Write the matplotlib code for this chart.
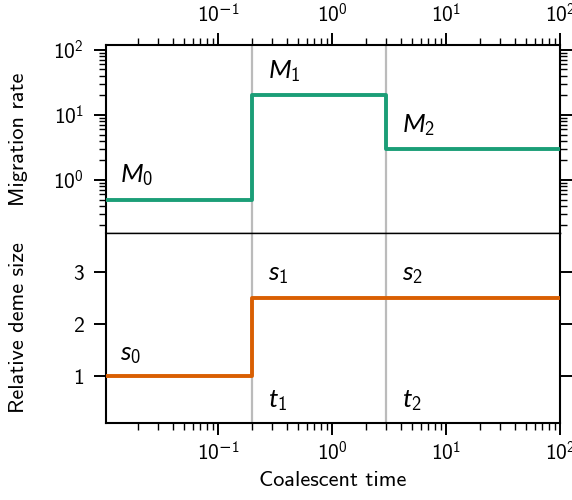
import matplotlib
matplotlib.use("Agg")
import matplotlib.pyplot as plt
from matplotlib.ticker import FuncFormatter
import numpy as np

plt.rcParams['font.family'] = ['cmss10', 'DejaVu Sans']
plt.rcParams['mathtext.fontset'] = 'custom'
plt.rcParams['mathtext.rm'] = 'cmss10'
plt.rcParams['mathtext.it'] = 'Lato:italic'
plt.rcParams['mathtext.sf'] = 'DejaVu Sans'
plt.rcParams['axes.unicode_minus'] = False

# data
times = [0.01, 0.2, 3.0, 100.0]          # breakpoints: start, t1, t2, end
migration = [0.5, 20.0, 3.0]              # M0, M1, M2
deme_size = [1.0, 2.5, 2.5]               # s0, s1, s2
switch_times = [0.2, 3.0]                 # t1, t2
m_labels = ['$M_0$', '$M_1$', '$M_2$']
s_labels = ['$s_0$', '$s_1$', '$s_2$']
t_labels = ['$t_1$', '$t_2$']

green = '#1b9e77'
orange = '#d95f02'


def logfmt(v, pos):
    e = int(round(np.log10(v)))
    if e < 0:
        return r'$10^{\mathsf{-}%d}$' % (-e)
    return r'$10^{%d}$' % e


fig = plt.figure(figsize=(5.72, 5.0), dpi=100)
ax1 = fig.add_axes([0.185, 0.534, 0.794, 0.376])
ax2 = fig.add_axes([0.185, 0.154, 0.794, 0.380], sharex=ax1)

for ax in (ax1, ax2):
    for t in switch_times:
        ax.axvline(t, color='#bbbbbb', lw=1.6, zorder=1)
    ax.set_xscale('log')
    for s in ax.spines.values():
        s.set_linewidth(1.5)

ax1.step(times, migration + [migration[-1]], where='post', color=green, lw=2.8, zorder=3)
ax2.step(times, deme_size + [deme_size[-1]], where='post', color=orange, lw=2.8, zorder=3)

ax1.set_xlim(0.0104, 100)
ax1.set_yscale('log')
ax1.set_ylim(0.153, 119)
ax2.set_ylim(0.1, 3.75)
ax2.set_yticks([1, 2, 3])

ax1.xaxis.set_major_formatter(FuncFormatter(logfmt))
ax1.yaxis.set_major_formatter(FuncFormatter(logfmt))

ax1.spines['bottom'].set_linewidth(1.0)
ax2.spines['top'].set_linewidth(1.0)

ax1.tick_params(axis='x', which='both', top=True, bottom=False, labeltop=True, labelbottom=False, direction='out')
ax2.tick_params(axis='x', which='both', top=False, bottom=True, labeltop=False, labelbottom=True, direction='out')
for ax in (ax1, ax2):
    ax.tick_params(axis='y', which='both', left=True, right=True, direction='out')
    ax.tick_params(which='major', length=8.5, width=1.4, labelsize=15.5)
    ax.tick_params(which='minor', length=5, width=1.0)
    ax.tick_params(axis='y', which='major', pad=7.5)
    ax.tick_params(axis='x', which='major', pad=5)

ax1.set_ylabel('Migration rate', fontsize=16)
ax2.set_ylabel('Relative deme size', fontsize=16)
ax2.set_xlabel('Coalescent time', fontsize=16)
ax1.yaxis.set_label_coords(-0.172, 0.5)
ax2.yaxis.set_label_coords(-0.172, 0.5)

fs = 19
ax1.text(0.0138, 0.93, m_labels[0], fontsize=fs, va='baseline')
ax1.text(0.275, 37, m_labels[1], fontsize=fs, va='baseline')
ax1.text(4.1, 5.5, m_labels[2], fontsize=fs, va='baseline')
ax2.text(0.0138, 1.31, s_labels[0], fontsize=fs, va='baseline')
ax2.text(0.275, 2.84, s_labels[1], fontsize=fs, va='baseline')
ax2.text(4.1, 2.84, s_labels[2], fontsize=fs, va='baseline')
ax2.text(0.275, 0.40, t_labels[0], fontsize=fs, va='baseline')
ax2.text(4.1, 0.40, t_labels[1], fontsize=fs, va='baseline')

fig.savefig('out.png', dpi=100)
